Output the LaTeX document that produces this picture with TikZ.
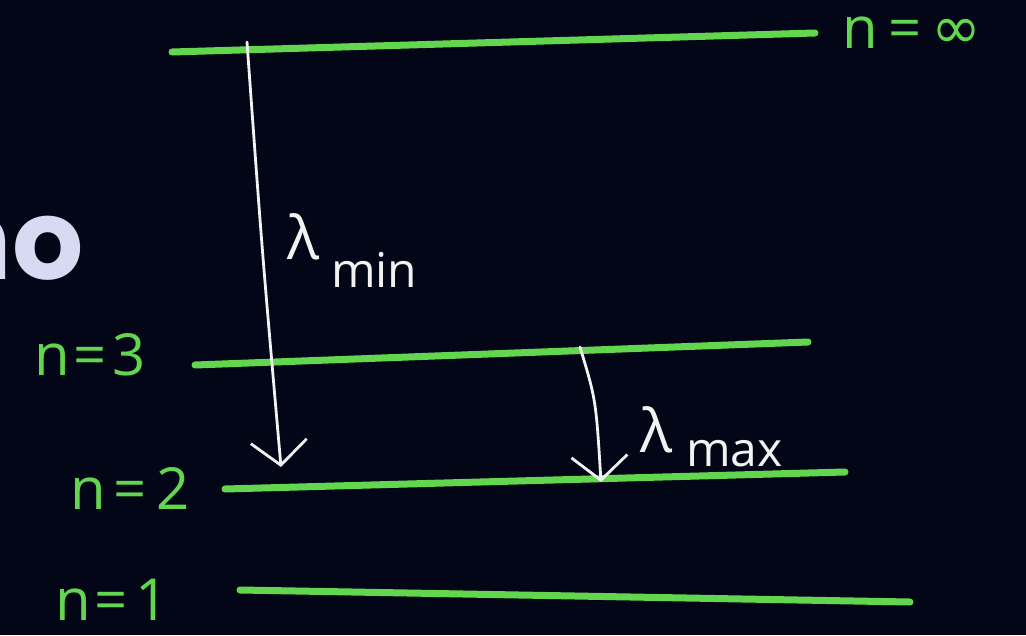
\documentclass[tikz,border=0pt]{standalone}
\usepackage{fontspec}
\setmainfont{Open Sans}
\newfontfamily\headfont{Poppins}
\newfontfamily\symfont{DejaVu Sans}
\usetikzlibrary{arrows.meta}
\definecolor{board}{RGB}{3,6,22}
\definecolor{chalkgreen}{RGB}{98,214,78}
\definecolor{chalkwhite}{RGB}{242,242,242}
\definecolor{slidetext}{RGB}{214,218,242}
\tikzset{
  level/.style={draw=chalkgreen, line width=7pt, line cap=round},
  levellabel/.style={text=chalkgreen, inner sep=0pt, font=\fontsize{58}{58}\selectfont},
  jump/.style={draw=chalkwhite, line width=2.8pt, line cap=round,
    -{Straight Barb[length=24pt, width=56pt, line width=2.8pt]}},
  lam/.style={text=chalkwhite, inner sep=0pt, font=\fontsize{60}{60}\selectfont},
  lamsub/.style={text=chalkwhite, inner sep=0pt, anchor=base west, font=\fontsize{48}{48}\selectfont}
}
\begin{document}
\begin{tikzpicture}[x=1pt, y=-1pt]
    \fill[board] (0,0) rectangle (1026,635);
    \useasboundingbox (0,0) rectangle (1026,635);
    % slide title, cut off
    \node[anchor=base east, inner sep=0pt, text=slidetext, font=\headfont\bfseries\fontsize{112}{112}\selectfont] (title) at (84,279) {no};
    % energy levels
    \draw[level] (172,52) -- (815,33);
    \draw[level] (195,365) -- (808,342);
    \draw[level] (225,489) -- (845,472);
    \draw[level] (240,590) -- (910,602);
    \node[levellabel, anchor=base] (ninf) at (912,48) {n\hspace{10pt}=\hspace{10pt}{\symfont\fontsize{60}{60}\selectfont ∞}};
    \node[levellabel] (n3) at (90,355) {n\hspace{4pt}=\hspace{6pt}3};
    \node[levellabel] (n2) at (130,488) {n\hspace{8pt}=\hspace{10pt}2};
    \node[levellabel] (n1) at (112,600) {n\hspace{4pt}=\hspace{8pt}1};
    % transitions
    \coordinate (minfrom) at (247,42);
    \coordinate (minto) at (281,467);
    \coordinate (maxfrom) at (580,347);
    \coordinate (maxto) at (601,482);
    \draw[jump] (minfrom) .. controls (262,250) .. (minto);
    \draw[jump] (maxfrom) .. controls (596,400) .. (maxto);
    \node[lam] (lmin) at (304,237) {λ};
    \node[lamsub] (smin) at (331,287) {min};
    \node[lam] (lmax) at (657,430) {λ};
    \node[lamsub] (smax) at (686,466) {max};
\end{tikzpicture}
\end{document}
